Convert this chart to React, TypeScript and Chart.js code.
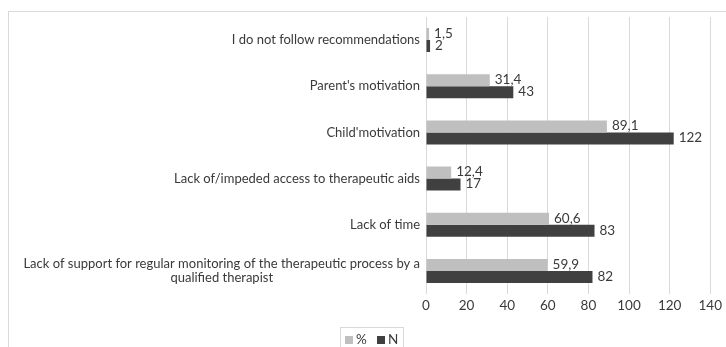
import { useEffect, useRef } from "react";
import { Chart, registerables } from "chart.js";

Chart.register(...registerables);

// Reasons, top to bottom; multi-line entries are drawn line by line
const categories: string[][] = [
  ["I do not follow recommendations"],
  ["Parent's motivation"],
  ["Child'motivation"],
  ["Lack of/impeded access to therapeutic aids"],
  ["Lack of time"],
  ["Lack of support for regular monitoring of the therapeutic process by a", "qualified therapist"],
];
const seriesNames = ["%", "N"];
const percentValues = [1.5, 31.4, 89.1, 12.4, 60.6, 59.9];
const countValues = [2, 43, 122, 17, 83, 82];
const xTicks = [0, 20, 40, 60, 80, 100, 120, 140];

const LIGHT = "#bfbfbf";
const DARK = "#404040";
const GRID = "#d9d9d9";
const TEXT = "#3a3a3a";
const FONT = "Lato, 'Open Sans', sans-serif";

const fmt = (v: number) => String(v).replace(".", ",");

const decorPlugin = {
  id: "decor",
  beforeDraw(chart: any) {
    const ctx = chart.ctx;
    ctx.save();
    ctx.strokeStyle = GRID;
    ctx.lineWidth = 1;
    ctx.strokeRect(8.5, 11.5, chart.width + 20, chart.height + 20);
    ctx.restore();
  },
  afterDraw(chart: any) {
    const ctx = chart.ctx;
    const area = chart.chartArea;
    const y = chart.scales.y;
    ctx.save();
    // category labels, right-aligned block, lines centred within the block
    ctx.font = `13px ${FONT}`;
    ctx.fillStyle = TEXT;
    ctx.textBaseline = "middle";
    ctx.textAlign = "center";
    const lineH = 14;
    categories.forEach((lines, i) => {
      const cy = y.getPixelForValue(i);
      const w = Math.max(...lines.map((l) => ctx.measureText(l).width));
      const right = area.left - 6;
      const cx = right - w / 2;
      const top = cy - ((lines.length - 1) * lineH) / 2;
      lines.forEach((l, j) => ctx.fillText(l, cx, top + j * lineH));
    });

    // value labels at bar ends
    ctx.textAlign = "left";
    ctx.font = `13.5px ${FONT}`;
    chart.data.datasets.forEach((ds: any, di: number) => {
      const meta = chart.getDatasetMeta(di);
      meta.data.forEach((el: any, i: number) => {
        ctx.fillText(fmt(ds.data[i]), el.x + 5, el.y - 0.5);
      });
    });

    // legend box
    ctx.strokeStyle = GRID;
    ctx.strokeRect(340.5, 327.5, 63, 40);
    ctx.font = `13.5px ${FONT}`;
    const items = [
      { name: seriesNames[0], color: LIGHT, x: 345 },
      { name: seriesNames[1], color: DARK, x: 377 },
    ];
    items.forEach((it) => {
      ctx.fillStyle = it.color;
      ctx.fillRect(it.x, 336, 8, 8);
      ctx.fillStyle = TEXT;
      ctx.fillText(it.name, it.x + 11, 340);
    });
    ctx.restore();
  },
};

export default function App() {
  const ref = useRef<HTMLCanvasElement>(null);

  useEffect(() => {
    if (!ref.current) return;
    const chart = new Chart(ref.current, {
      type: "bar",
      data: {
        labels: categories.map((c) => c.join(" ")),
        datasets: [
          {
            label: seriesNames[0],
            data: percentValues,
            backgroundColor: LIGHT,
            barPercentage: 1,
            categoryPercentage: 0.52,
          },
          {
            label: seriesNames[1],
            data: countValues,
            backgroundColor: DARK,
            barPercentage: 1,
            categoryPercentage: 0.52,
          },
        ],
      },
      options: {
        indexAxis: "y",
        responsive: false,
        animation: false,
        devicePixelRatio: 1,
        layout: { padding: { left: 0, top: 17, right: 15, bottom: 0 } },
        plugins: {
          legend: { display: false },
          tooltip: { enabled: false },
        },
        scales: {
          x: {
            min: 0,
            max: 140,
            afterBuildTicks: (scale: any) => {
              scale.ticks = xTicks.map((v) => ({ value: v }));
            },
            afterFit: (scale: any) => {
              scale.height = 53;
            },
            grid: { color: GRID, drawTicks: false, lineWidth: 1 },
            border: { display: false },
            ticks: {
              color: TEXT,
              font: { family: FONT, size: 13.5 },
              padding: 4,
            },
          },
          y: {
            afterFit: (scale: any) => {
              scale.width = 426;
            },
            grid: { display: false },
            border: { display: false },
            ticks: { display: false },
          },
        },
      },
      plugins: [decorPlugin],
    });
    return () => chart.destroy();
  }, []);

  return (
    <div style={{ position: "fixed", left: 0, top: 0, width: 726, height: 347, background: "#fff" }}>
      <canvas ref={ref} width={726} height={347} />
    </div>
  );
}
